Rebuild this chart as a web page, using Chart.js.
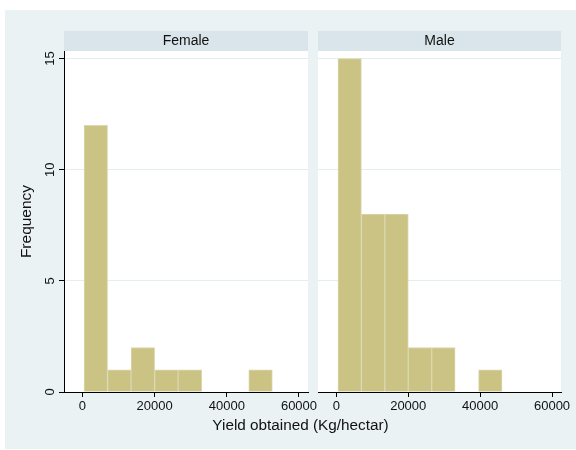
<!DOCTYPE html>
<html>
<head>
<meta charset="utf-8">
<script src="https://cdn.jsdelivr.net/npm/chart.js@4"></script>
<style>
  html, body { margin: 0; padding: 0; background: #ffffff; }
  #wrap { position: relative; width: 576px; height: 450px; overflow: hidden; }
  #bg { position: absolute; left: 5px; top: 10px; width: 571px; height: 439px; background: #EAF2F3; }
  canvas { position: absolute; left: 0; top: 0; }
</style>
</head>
<body>
<div id="wrap">
  <div id="bg"></div>
  <canvas id="female" width="576" height="450"></canvas>
  <canvas id="male" width="576" height="450"></canvas>
</div>
<script>
// Histogram of yield by sex: shared bins, one panel per group
const panelNames = ['Female', 'Male'];
const binEdges = [450, 6970, 13490, 20010, 26530, 33050, 39570, 46090, 52610];
const femaleCounts = [12, 1, 2, 1, 1, 0, 0, 1];
const maleCounts = [15, 8, 8, 2, 2, 0, 1, 0];
const xTicks = [0, 20000, 40000, 60000];
const yTicks = [0, 5, 10, 15];
const xTitle = 'Yield obtained (Kg/hectar)';
const yTitle = 'Frequency';

const FONT = '"Liberation Sans", Arial, Helvetica, sans-serif';
Chart.defaults.font.family = FONT;

const BAR_FILL = '#CAC384';
const BAR_EDGE = '#DCD7AE';
const GRID = '#E4EDEF';
const STRIP = '#D9E5EA';
const INK = '#111111';

function binPoints(counts) {
  return counts.map((c, i) => ({ x: (binEdges[i] + binEdges[i + 1]) / 2, y: c }));
}

// Panel background, header strip, rotated y labels and the shared x title
const panelDecor = {
  id: 'panelDecor',
  beforeDraw(chart, args, o) {
    const { ctx, chartArea: a } = chart;
    ctx.save();
    ctx.fillStyle = '#ffffff';
    ctx.fillRect(a.left, a.top, a.right - a.left, a.bottom - a.top);
    ctx.fillStyle = STRIP;
    ctx.fillRect(a.left, 31, a.right - a.left, a.top - 31);
    ctx.fillStyle = INK;
    ctx.font = '14px ' + FONT;
    ctx.textAlign = 'center';
    ctx.textBaseline = 'middle';
    ctx.fillText(o.label, (a.left + a.right) / 2, 41.5);
    ctx.restore();
  },
  afterDraw(chart, args, o) {
    const { ctx } = chart;
    ctx.save();
    ctx.fillStyle = INK;
    if (o.yLabels) {
      const s = chart.scales.y;
      ctx.font = '13px ' + FONT;
      ctx.textAlign = 'center';
      ctx.textBaseline = 'alphabetic';
      s.ticks.forEach(t => {
        const py = s.getPixelForValue(t.value);
        ctx.save();
        ctx.translate(53.5, py);
        ctx.rotate(-Math.PI / 2);
        ctx.fillText(String(t.value), 0, 0);
        ctx.restore();
      });
    }
    if (o.xTitle) {
      ctx.font = '15.3px ' + FONT;
      ctx.textAlign = 'center';
      ctx.textBaseline = 'alphabetic';
      ctx.fillText(o.xTitle, 300.5, 430);
    }
    ctx.restore();
  }
};

function makePanel(id, name, counts, first) {
  return new Chart(document.getElementById(id), {
    type: 'bar',
    data: {
      datasets: [{
        label: name,
        data: binPoints(counts),
        backgroundColor: BAR_FILL,
        borderColor: BAR_EDGE,
        borderWidth: 1,
        borderSkipped: 'start',
        barPercentage: 1,
        categoryPercentage: 1
      }]
    },
    options: {
      responsive: false,
      animation: false,
      events: [],
      layout: {
        padding: first
          ? { left: 0, right: 268, top: 51, bottom: 0 }
          : { left: 318, right: 15, top: 51, bottom: 0 }
      },
      plugins: {
        legend: { display: false },
        tooltip: { enabled: false },
        panelDecor: { label: name, yLabels: first, xTitle: first ? xTitle : null }
      },
      scales: {
        x: {
          type: 'linear',
          min: -5100,
          max: 62500,
          offset: false,
          grid: {
            offset: false,
            drawOnChartArea: false,
            drawTicks: true,
            tickLength: 5,
            color: '#000',
            tickColor: '#000'
          },
          border: { display: true, color: '#000', width: 1, z: 1 },
          ticks: {
            color: INK,
            font: { size: 13 },
            padding: 2,
            maxRotation: 0,
            minRotation: 0,
            autoSkip: false,
            callback: v => String(v)
          },
          afterBuildTicks: s => { s.ticks = xTicks.map(v => ({ value: v })); },
          afterFit: s => { s.height = 58; s.paddingLeft = 0; s.paddingRight = 0; }
        },
        y: {
          type: 'linear',
          min: 0,
          max: 15.34,
          grid: {
            color: GRID,
            lineWidth: 1,
            drawTicks: first,
            tickLength: 5,
            tickColor: '#000'
          },
          border: { display: first, color: '#000', width: 1, z: 1 },
          ticks: { display: false, includeBounds: false },
          title: first
            ? { display: true, text: yTitle, color: INK, font: { size: 15.5 }, padding: { top: 17, bottom: 0 } }
            : { display: false },
          afterBuildTicks: s => { s.ticks = yTicks.map(v => ({ value: v })); },
          afterFit: s => { s.width = first ? 64 : 0; s.paddingTop = 0; s.paddingBottom = 0; }
        }
      }
    },
    plugins: [panelDecor]
  });
}

makePanel('female', panelNames[0], femaleCounts, true);
makePanel('male', panelNames[1], maleCounts, false);
</script>
</body>
</html>
